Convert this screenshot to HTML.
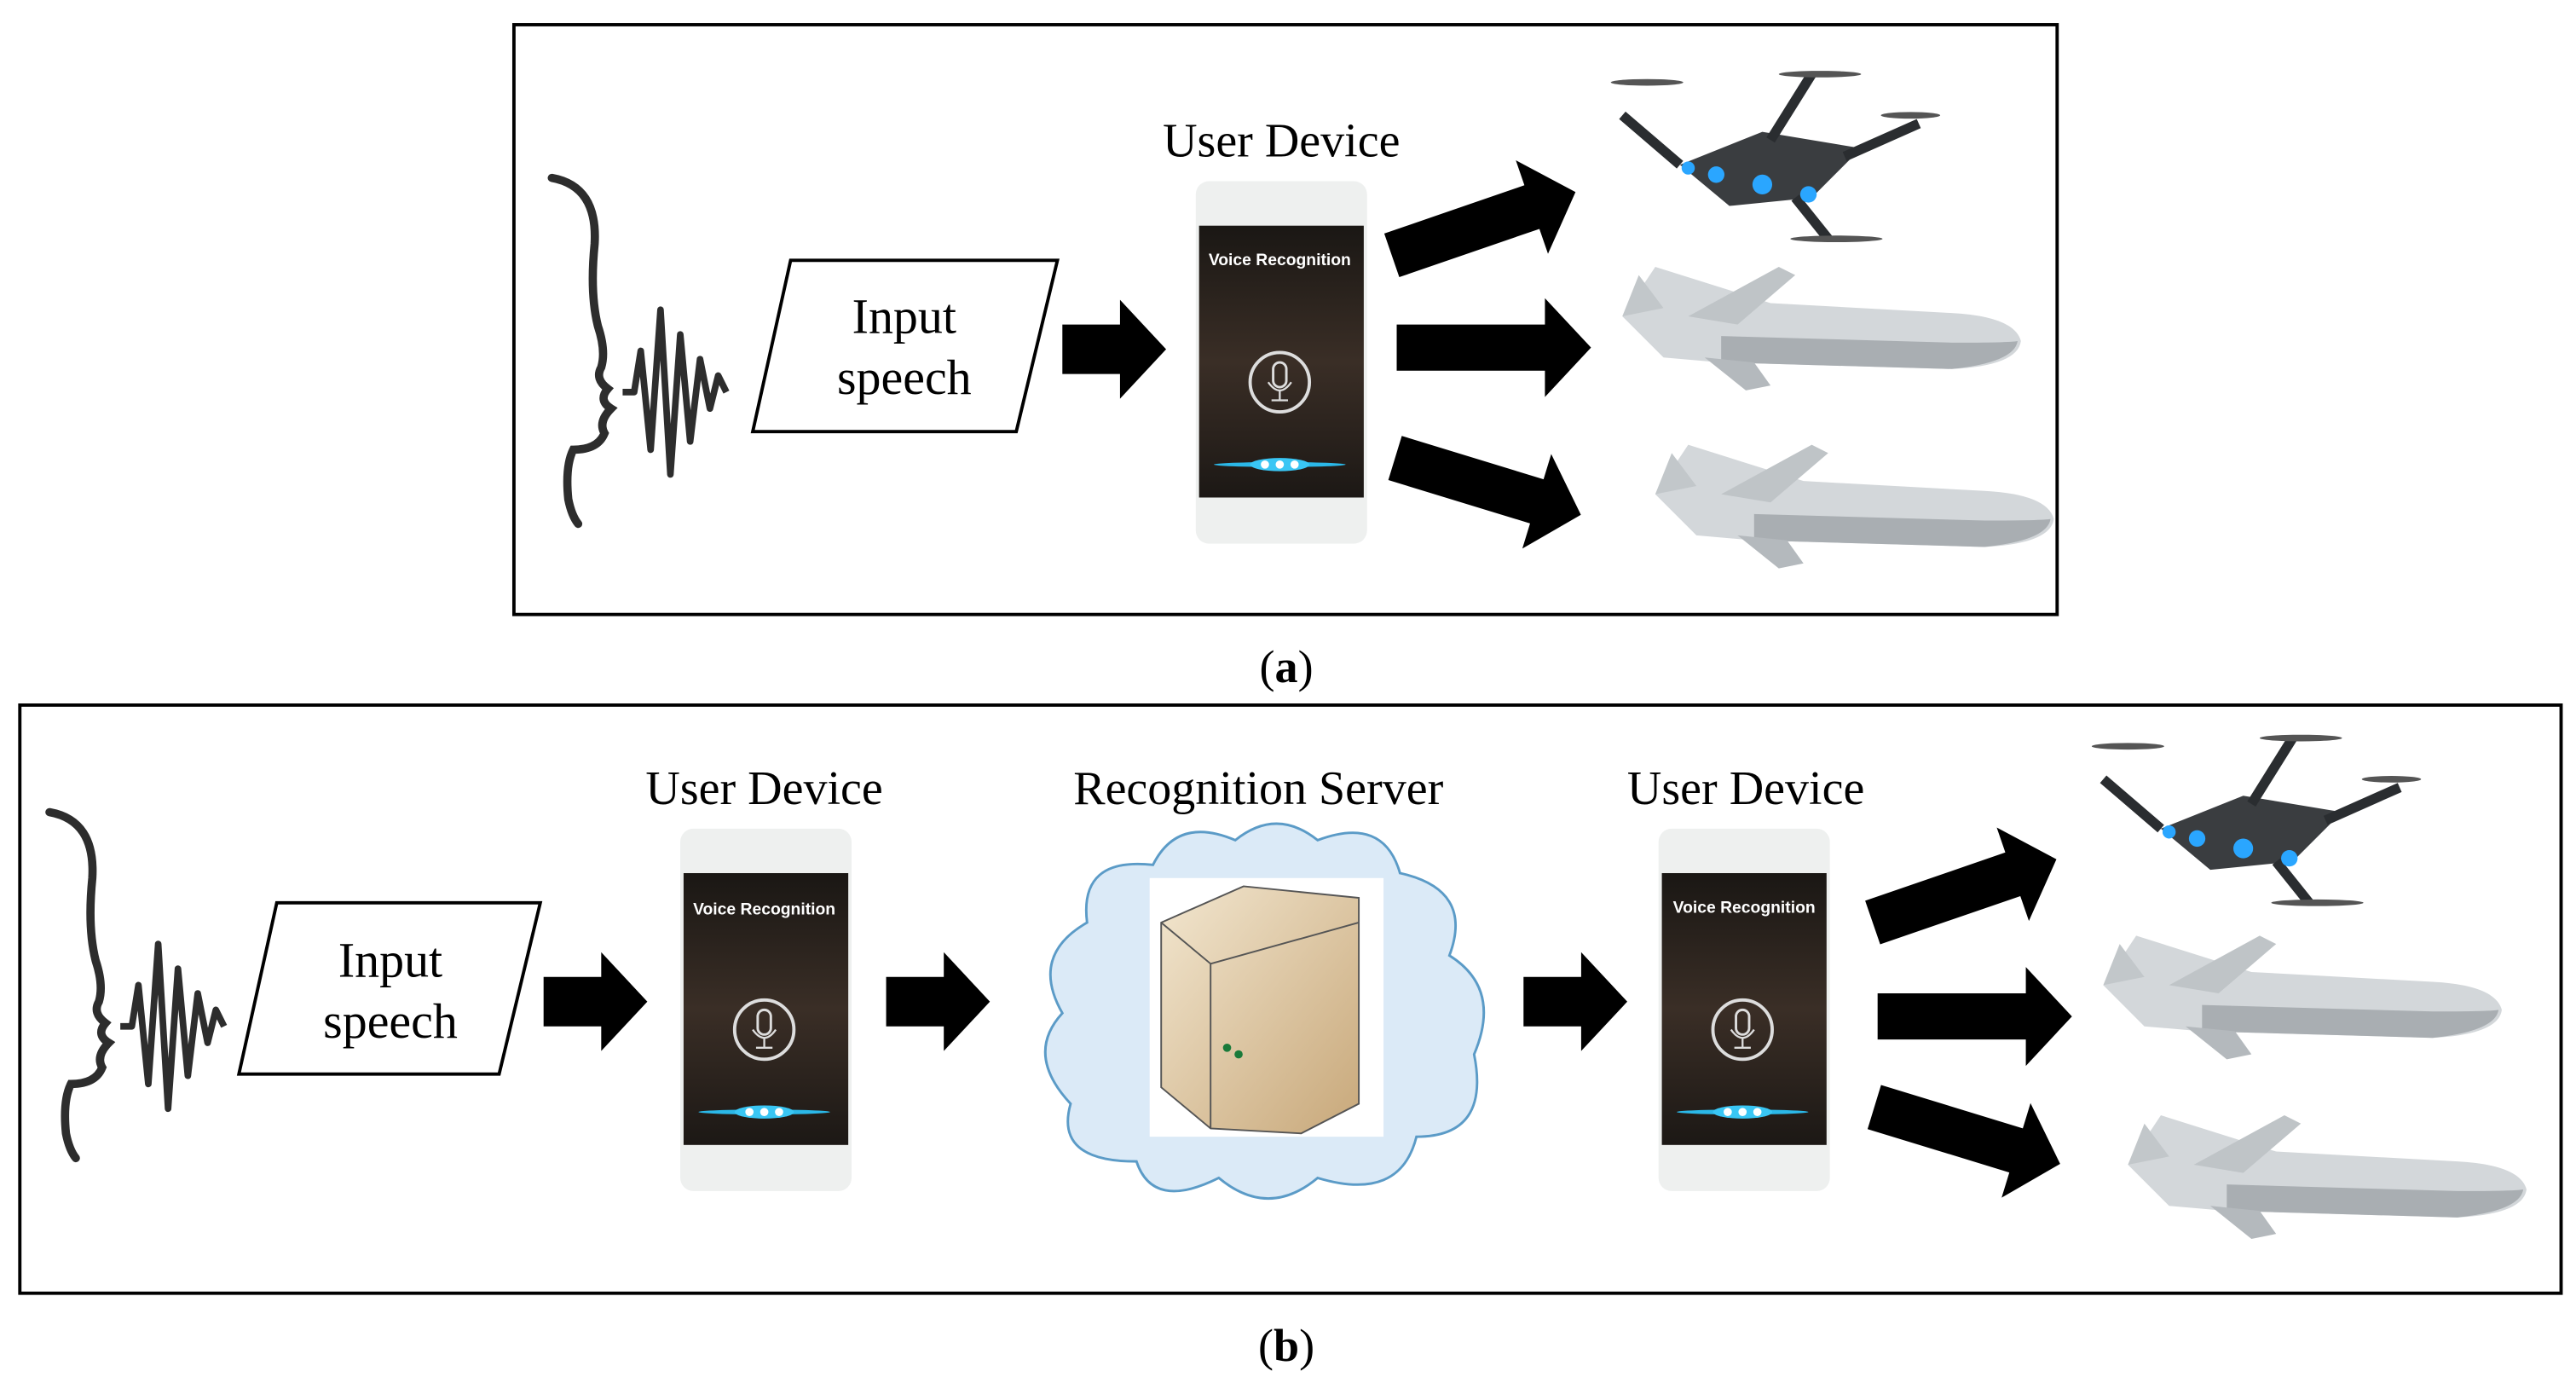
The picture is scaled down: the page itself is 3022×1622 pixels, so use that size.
<!DOCTYPE html>
<html><head><meta charset="utf-8"><style>html,body{margin:0;padding:0;background:#fff}svg{display:block}</style></head>
<body>
<svg width="3022" height="1622" viewBox="0 0 1564 839.5" xmlns="http://www.w3.org/2000/svg" font-family="Liberation Serif, serif">
<defs>
<linearGradient id="scr" x1="0" y1="0" x2="0" y2="1"><stop offset="0" stop-color="#1a1714"/><stop offset="0.5" stop-color="#3a2e26"/><stop offset="1" stop-color="#1c1815"/></linearGradient>
<linearGradient id="srv" x1="0" y1="0" x2="1" y2="1"><stop offset="0" stop-color="#f2e6cf"/><stop offset="1" stop-color="#c8a87a"/></linearGradient>
<g id="phone">
<rect x="0" y="0" width="104" height="220" rx="8" fill="#eef0ef"/>
<rect x="2" y="27" width="100" height="165" fill="url(#scr)"/>
<circle cx="51" cy="122" r="18" fill="none" stroke="#ddd" stroke-width="2"/>
<rect x="47" y="110" width="8" height="15" rx="4" fill="none" stroke="#ddd" stroke-width="1.5"/>
<path d="M44 122 q7 10 14 0 M51 127 v6 M46 133 h10" fill="none" stroke="#ddd" stroke-width="1.2"/>
<ellipse cx="51" cy="172" rx="40" ry="1.5" fill="#2bb8e8"/>
<ellipse cx="51" cy="172" rx="18" ry="4" fill="#39c6f4"/>
<circle cx="42" cy="172" r="2.5" fill="#fff"/><circle cx="51" cy="172" r="2.5" fill="#fff"/><circle cx="60" cy="172" r="2.5" fill="#fff"/>
</g>
<g id="arrowH"><polygon points="0,-15 35,-15 35,-30 63,0 35,30 35,15 0,15" fill="#000"/></g>
<g id="bigArrow"><polygon points="0,-14 90,-14 90,-30 118,0 90,30 90,14 0,14" fill="#000"/></g>
<g id="plane">
<path d="M0 30 L25 55 L60 58 L200 62 Q240 60 242 45 Q238 30 200 28 L90 22 L20 0 Z" fill="#d3d7da"/>
<path d="M60 42 L200 46 Q235 46 240 45 Q238 58 200 62 L60 58 Z" fill="#a9aeb2"/>
<path d="M40 30 L95 0 L105 5 L70 35 Z" fill="#bfc4c7"/>
<path d="M50 55 L75 75 L90 72 L80 58 Z" fill="#b4b9bd"/>
<path d="M0 30 L10 5 L25 25 Z" fill="#c2c7ca"/>
</g>
<g id="quad">
<path d="M40 60 L90 40 L150 50 L120 80 L70 85 Z" fill="#3a3d40"/>
<path d="M5 30 L40 60 M120 5 L95 45 M140 55 L185 35 M110 80 L130 105" stroke="#2a2d30" stroke-width="6"/>
<ellipse cx="20" cy="10" rx="22" ry="2" fill="#555"/><ellipse cx="125" cy="5" rx="25" ry="2" fill="#555"/>
<ellipse cx="180" cy="30" rx="18" ry="2" fill="#555"/><ellipse cx="135" cy="105" rx="28" ry="2" fill="#555"/>
<circle cx="62" cy="66" r="5" fill="#2aa6ff"/><circle cx="90" cy="72" r="6" fill="#2aa6ff"/><circle cx="118" cy="78" r="5" fill="#2aa6ff"/>
<circle cx="45" cy="62" r="4" fill="#2aa6ff"/>
</g>
<g id="head">
<path d="M2 0 Q30 5 28 40 Q25 70 30 90 Q35 105 32 115 Q28 122 36 128 Q30 135 38 140 Q30 148 34 155 Q30 165 15 165 Q10 175 12 195 Q14 205 18 210" fill="none" stroke="#2d2d2d" stroke-width="5" stroke-linecap="round"/>
<path d="M45 130 L52 130 L56 105 L62 165 L68 80 L74 180 L80 95 L86 160 L92 110 L98 140 L103 120 L108 130" fill="none" stroke="#2d2d2d" stroke-width="4" stroke-linejoin="round"/>
</g>
</defs>

<rect x="312" y="15" width="937" height="358" fill="none" stroke="#000" stroke-width="2"/>
<use href="#head" x="333" y="108"/>
<polygon points="480,158 642,158 617,262 457,262" fill="#fff" stroke="#000" stroke-width="2"/>
<text x="549" y="202" font-size="30" text-anchor="middle">Input</text>
<text x="549" y="239" font-size="30" text-anchor="middle">speech</text>
<use href="#arrowH" x="645" y="212"/>
<text x="778" y="95" font-size="29" text-anchor="middle">User Device</text>
<use href="#phone" x="726" y="110"/>
<text x="777" y="161" font-size="10" font-weight="bold" fill="#fff" text-anchor="middle" font-family="Liberation Sans, sans-serif">Voice Recognition</text>
<use href="#bigArrow" transform="translate(845,155) rotate(-19)"/>
<use href="#bigArrow" x="848" y="211"/>
<use href="#bigArrow" transform="translate(847,278) rotate(17)"/>
<use href="#quad" x="980" y="40"/>
<use href="#plane" x="985" y="162"/>
<use href="#plane" x="1005" y="270"/>
<text x="781" y="414" font-size="28" text-anchor="middle">(<tspan font-weight="bold">a</tspan>)</text>

<rect x="12" y="428" width="1543" height="357" fill="none" stroke="#000" stroke-width="2"/>
<use href="#head" x="28" y="493"/>
<polygon points="168,548 328,548 303,652 145,652" fill="#fff" stroke="#000" stroke-width="2"/>
<text x="237" y="593" font-size="30" text-anchor="middle">Input</text>
<text x="237" y="630" font-size="30" text-anchor="middle">speech</text>
<use href="#arrowH" x="330" y="608"/>
<text x="464" y="488" font-size="29" text-anchor="middle">User Device</text>
<use href="#phone" x="413" y="503"/>
<text x="464" y="555" font-size="10" font-weight="bold" fill="#fff" text-anchor="middle" font-family="Liberation Sans, sans-serif">Voice Recognition</text>
<use href="#arrowH" x="538" y="608"/>
<text x="764" y="488" font-size="29" text-anchor="middle">Recognition Server</text>
<path d="M660 560 Q655 520 700 525 Q715 495 750 510 Q775 490 800 510 Q840 495 850 530 Q895 540 880 580 Q912 600 895 640 Q905 690 860 690 Q850 730 800 715 Q770 740 740 715 Q700 735 690 705 Q640 705 650 670 Q622 640 645 615 Q625 580 660 560 Z" fill="#dbeaf7" stroke="#5b9bc7" stroke-width="1.5"/>
<rect x="698" y="533" width="142" height="157" fill="#fff"/>
<polygon points="705,560 755,538 825,545 825,670 790,688 735,685 705,660" fill="url(#srv)" stroke="#555" stroke-width="1"/>
<path d="M705 560 L735 585 L735 685 M735 585 L825 560" fill="none" stroke="#555" stroke-width="1"/>
<circle cx="745" cy="636" r="2.5" fill="#1a7a3a"/><circle cx="752" cy="640" r="2.5" fill="#1a7a3a"/>
<use href="#arrowH" x="925" y="608"/>
<text x="1060" y="488" font-size="29" text-anchor="middle">User Device</text>
<use href="#phone" x="1007" y="503"/>
<text x="1059" y="554" font-size="10" font-weight="bold" fill="#fff" text-anchor="middle" font-family="Liberation Sans, sans-serif">Voice Recognition</text>
<use href="#bigArrow" transform="translate(1137,560) rotate(-19)"/>
<use href="#bigArrow" x="1140" y="617"/>
<use href="#bigArrow" transform="translate(1138,672) rotate(17)"/>
<use href="#quad" x="1272" y="443"/>
<use href="#plane" x="1277" y="568"/>
<use href="#plane" x="1292" y="677"/>
<text x="781" y="826" font-size="28" text-anchor="middle">(<tspan font-weight="bold">b</tspan>)</text>
</svg>
</body></html>
